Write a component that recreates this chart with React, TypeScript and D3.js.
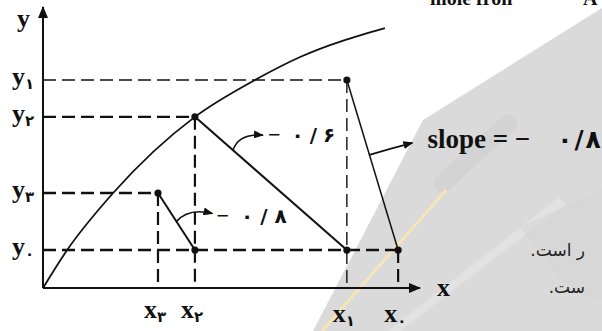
import React from 'react';
import * as d3 from 'd3';

const W = 602;
const H = 331;

// operating values (arbitrary 0-100 units)
const xNames = ['x', 'x', 'x', 'x'];
const xSubs = ['۳', '۲', '۱', '۰'];
const xValues = [30.5, 40.3, 80.6, 94.2];
const yNames = ['y', 'y', 'y', 'y'];
const ySubs = ['۱', '۲', '۳', '۰'];
const yValues = [74.0, 60.9, 33.8, 13.5];

// equilibrium curve
const curveX = [0, 6.4, 18.6, 40.3, 56.2, 68.2, 90.7];
const curveY = [0, 13.5, 33.8, 60.9, 74.0, 82.2, 92.5];

// which x each y guide runs to: y1->x1, y2->x2, y3->x3, y0->x0
const guideX = [2, 1, 0, 3];
// dots [xIndex, yIndex]
const dots = [[1, 1], [2, 0], [0, 2], [1, 3], [2, 3], [3, 3]];
// operating lines [from, to]
const segments = [
  [[1, 1], [2, 3]],
  [[0, 2], [1, 3]],
  [[2, 0], [3, 3]],
];
const slopePrefix = ['−', '−', 'slope = −'];
const slopeValue = ['۰/۶', '۰/۸', '۰/۸'];

const SERIF = "'Liberation Serif', 'DejaVu Serif', serif";
const PERSIAN = "'DejaVu Sans', sans-serif";

export default function App() {
  const x = d3.scaleLinear().domain([0, 100]).range([43, 420]);
  const y = d3.scaleLinear().domain([0, 100]).range([288, 7]);

  const curve = d3
    .line<number>()
    .x((_, i) => x(curveX[i]))
    .y((_, i) => y(curveY[i]))
    .curve(d3.curveMonotoneX)(curveX);

  const px = (p: number[]) => [x(xValues[p[0]]), y(yValues[p[1]])];

  // where each annotation arrow leaves its line, how it bends, where the words sit
  const annot = [
    { t: 0.25, end: [30, -15], bend: [6, -17], text: [35, -8], gap: 11, spacing: 6, size: 22 },
    { t: 0.5, end: [36, -8], bend: [12, -14], text: [40, 1], gap: 12, spacing: 7, size: 22 },
    { t: 0.44, end: [43, -12], bend: [20, -6], text: [58, -7], gap: 27, spacing: 2, size: 27 },
  ];

  const thin = new Set([0]); // y1 / x1 guides are drawn thinner
  const dash = '13,6';

  return (
    <svg
      width={W}
      height={H}
      style={{ position: 'absolute', left: 0, top: 0, background: '#fff' }}
    >
      <defs>
        <marker id="axisHead" viewBox="0 0 12 10" refX="11" refY="5" markerWidth="13" markerHeight="10"
          markerUnits="userSpaceOnUse" orient="auto">
          <path d="M0,0 L12,5 L0,10 z" fill="#111" />
        </marker>
        <marker id="smallHead" viewBox="0 0 10 8" refX="9" refY="4" markerWidth="10" markerHeight="8"
          markerUnits="userSpaceOnUse" orient="auto">
          <path d="M0,0 L10,4 L0,8 z" fill="#111" />
        </marker>
      </defs>

      {/* background watermark */}
      <g>
        <path d="M313,331 L423,120 L602,8 L602,331 Z" fill="#dadada" />
        <path d="M388,331 L558,198 L566,204 L400,331 Z" fill="#e2e2e2" />
        <path d="M520,227 L602,190 L602,300 L568,290 Z" fill="#d6d6d6" opacity={0.6} />
        <line x1={443} y1={183} x2={508} y2={124} stroke="#d3d3d3" strokeWidth={18} strokeLinecap="round" />
        <line x1={322} y1={331} x2={446} y2={190} stroke="#f6e5b8" strokeWidth={3} />
      </g>

      <text x={430} y={5} fontFamily={SERIF} fontWeight="bold" fontSize={20} fill="#111">
        mole fron
      </text>
      <text x={583} y={5} fontFamily={SERIF} fontWeight="bold" fontSize={20} fill="#111">
        A
      </text>

      {/* axes */}
      <line x1={x(0)} y1={y(0)} x2={x(0)} y2={y(100)} stroke="#111" strokeWidth={2} markerEnd="url(#axisHead)" />
      <line x1={x(0)} y1={y(0)} x2={x(100)} y2={y(0)} stroke="#111" strokeWidth={2} markerEnd="url(#axisHead)" />

      {/* dashed guides */}
      {yValues.map((v, i) => (
        <line key={'h' + i} x1={x(0)} y1={y(v)} x2={x(xValues[guideX[i]])} y2={y(v)}
          stroke="#111" strokeWidth={thin.has(i) ? 1.4 : 2.4} strokeDasharray={dash} />
      ))}
      {xValues.map((v, i) => {
        const yi = guideX.indexOf(i);
        return (
          <line key={'v' + i} x1={x(v)} y1={y(yValues[yi])} x2={x(v)} y2={y(0)}
            stroke="#111" strokeWidth={i === 2 ? 1.4 : 2.2} strokeDasharray={dash} />
        );
      })}

      {/* equilibrium curve */}
      <path d={curve ?? ''} fill="none" stroke="#111" strokeWidth={1.8} />

      {/* operating lines */}
      {segments.map(([a, b], i) => {
        const [x1, y1] = px(a);
        const [x2, y2] = px(b);
        return <line key={'s' + i} x1={x1} y1={y1} x2={x2} y2={y2} stroke="#111" strokeWidth={i === 2 ? 1.5 : 2} />;
      })}

      {dots.map((d, i) => {
        const [cx, cy] = px(d);
        return <circle key={'d' + i} cx={cx} cy={cy} r={3.6} fill="#111" />;
      })}

      {/* slope annotations */}
      {segments.map(([a, b], i) => {
        const [x1, y1] = px(a);
        const [x2, y2] = px(b);
        const s = annot[i];
        const sx = x1 + (x2 - x1) * s.t;
        const sy = y1 + (y2 - y1) * s.t;
        const ex = sx + s.end[0];
        const ey = sy + s.end[1];
        return (
          <g key={'a' + i}>
            <path d={`M${sx},${sy} Q${sx + s.bend[0]},${sy + s.bend[1]} ${ex},${ey}`} fill="none"
              stroke="#111" strokeWidth={1.6} markerEnd="url(#smallHead)" />
            <text x={sx + s.text[0]} y={sy + s.text[1]} fontFamily={SERIF} fontWeight="bold"
              fontSize={s.size} fill="#111" style={{ whiteSpace: 'pre' }}>
              {slopePrefix[i]}
              {Array.from(slopeValue[i]).map((ch, k) => (
                <tspan key={k} dx={k === 0 ? s.gap : s.spacing} fontFamily={PERSIAN} fontSize={s.size - 2}>
                  {ch}
                </tspan>
              ))}
            </text>
          </g>
        );
      })}

      {/* axis titles */}
      <text x={17} y={27} fontFamily={SERIF} fontWeight="bold" fontSize={26} fill="#111">y</text>
      <text x={437} y={296} fontFamily={SERIF} fontWeight="bold" fontSize={26} fill="#111">x</text>

      {/* y labels */}
      {yValues.map((v, i) => (
        <text key={'yl' + i} x={12} y={y(v) + 5} fontFamily={SERIF} fontWeight="bold" fontSize={26} fill="#111">
          {yNames[i]}
          <tspan fontSize={15} dy={4} fontFamily={PERSIAN}>{ySubs[i]}</tspan>
        </text>
      ))}

      {/* x labels */}
      {xValues.map((v, i) => (
        <text key={'xl' + i} x={x(v) - 14} y={i >= 2 ? 322 : 318} fontFamily={SERIF} fontWeight="bold" fontSize={26} fill="#111">
          {xNames[i]}
          <tspan fontSize={15} dy={4} fontFamily={PERSIAN}>{xSubs[i]}</tspan>
        </text>
      ))}

      {/* persian body text */}
      <text x={585} y={256} textAnchor="start" direction="rtl" fontFamily={PERSIAN} fontSize={17} fill="#222">
        ر است.
      </text>
      <text x={585} y={293} textAnchor="start" direction="rtl" fontFamily={PERSIAN} fontSize={17} fill="#222">
        ست.
      </text>
    </svg>
  );
}
